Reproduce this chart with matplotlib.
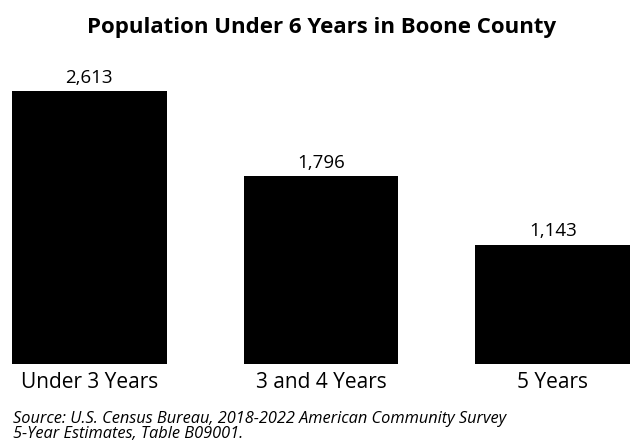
import matplotlib
matplotlib.use("Agg")
import matplotlib.pyplot as plt

categories = ["Under 3 Years", "3 and 4 Years", "5 Years"]
values = [2613, 1796, 1143]
value_labels = ["2,613", "1,796", "1,143"]
title = "Population Under 6 Years in Boone County"
source = ("Source: U.S. Census Bureau, 2018-2022 American Community Survey\n"
          "5-Year Estimates, Table B09001.")

plt.rcParams['font.family'] = ['Open Sans', 'DejaVu Sans']
W, H = 636, 445
fig = plt.figure(figsize=(W/100, H/100), dpi=100)
ax = fig.add_axes([12/W, 1-364/H, (630-12)/W, (364-91)/H])
x = list(range(len(categories)))
ax.bar(x, values, width=0.667, color="black")
ax.set_xlim(-0.3335, 2.3335)
ax.set_ylim(0, max(values))
ax.axis("off")
for xi, v, lab in zip(x, values, value_labels):
    ax.annotate(lab, (xi, v), xytext=(0, 6), textcoords="offset points",
                ha="center", va="baseline", fontsize=13.5, clip_on=False)
for xi, c in zip(x, categories):
    ax.annotate(c, (xi, 0), xytext=(0, -17.5), textcoords="offset points",
                ha="center", va="baseline", fontsize=15, clip_on=False)
fig.text(322/W, 1-33/H, title, ha="center", va="baseline", fontsize=16, fontweight="bold")
fig.text(13/W, 1-423/H, source.split("\n")[0], ha="left", va="baseline", fontsize=11.8, style="italic")
fig.text(13/W, 1-438.5/H, source.split("\n")[1], ha="left", va="baseline", fontsize=11.8, style="italic")
fig.savefig("out.png", dpi=100, facecolor="white")
